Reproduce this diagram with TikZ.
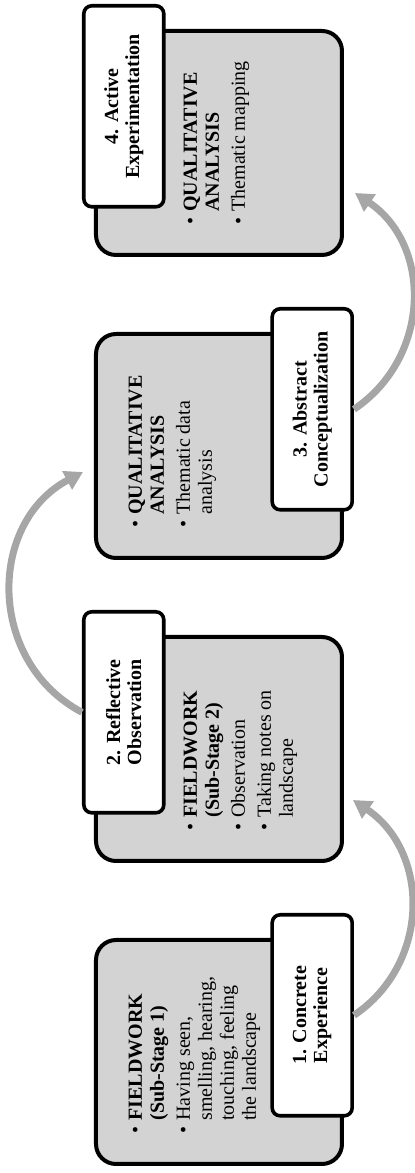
\documentclass[tikz,border=0pt]{standalone}
\usepackage{fontspec}
\setmainfont{Liberation Serif}
\usetikzlibrary{arrows.meta,positioning}
\definecolor{boxgray}{RGB}{211,211,211}
\definecolor{arcgray}{RGB}{166,166,166}
\newcommand{\bul}{\textbullet}

\begin{document}
\begin{tikzpicture}[
  x=0.5pt, y=0.5pt, rotate=90, transform shape,
  font=\fontsize{10}{11}\selectfont, node distance=37.5pt,
  grp/.style={draw, line width=2pt, rounded corners=10pt, fill=boxgray, minimum width=112pt, minimum height=123pt, inner sep=0pt},
  lab/.style={draw, line width=1.8pt, rounded corners=4pt, fill=white, minimum width=100.5pt, minimum height=40pt, align=center, font=\fontsize{10}{10.5}\selectfont\bfseries},
  txt/.style={inner sep=0pt, anchor=north west},
  arc/.style={draw=arcgray, line width=3.5pt, -{Triangle[length=9pt, width=10pt]}}]
  \useasboundingbox (0,0) rectangle (1173,415);
  % stage boxes
  \node[grp, anchor=south west] (g1) at (7,71) {};
  \node[grp, right=of g1] (g2) {};
  \node[grp, right=of g2] (g3) {};
  \node[grp, right=of g3] (g4) {};
  % contents
  \node[txt] (b1) at ([shift={(32,-32)}]g1.north west) {\begin{tabular}{@{}l@{\hspace{3pt}}l@{}}
    \bul & \textbf{FIELDWORK}\\ & \textbf{(Sub-Stage 1)}\\[2pt]
    \bul & Having seen,\\ & smelling, hearing,\\ & touching, feeling\\ & the landscape\end{tabular}};
  \node[txt] (b2) at ([shift={(32,-87)}]g2.north west) {\begin{tabular}{@{}l@{\hspace{3pt}}l@{}}
    \bul & \textbf{FIELDWORK}\\ & \textbf{(Sub-Stage 2)}\\[2pt]
    \bul & Observation\\[2pt] \bul & Taking notes on\\ & landscape\end{tabular}};
  \node[txt] (b3) at ([shift={(32,-32)}]g3.north west) {\begin{tabular}{@{}l@{\hspace{3pt}}l@{}}
    \bul & \textbf{QUALITATIVE}\\ & \textbf{ANALYSIS}\\[2pt]
    \bul & Thematic data\\ & analysis\end{tabular}};
  \node[txt] (b4) at ([shift={(32,-87)}]g4.north west) {\begin{tabular}{@{}l@{\hspace{3pt}}l@{}}
    \bul & \textbf{QUALITATIVE}\\ & \textbf{ANALYSIS}\\[2pt]
    \bul & Thematic mapping\end{tabular}};
  % stage labels
  \node[lab, anchor=south east] (l1) at ([shift={(25,-10)}]g1.south east) {1. Concrete\\ Experience};
  \node[lab, anchor=north east] (l2) at ([shift={(25,12)}]g2.north east) {2. Reflective\\ Observation};
  \node[lab, anchor=south east] (l3) at ([shift={(25,-10)}]g3.south east) {3. Abstract\\ Conceptualization};
  \node[lab, anchor=north east] (l4) at ([shift={(25,12)}]g4.north east) {4. Active\\ Experimentation};
  % cycle arrows
  \coordinate (t2) at ([shift={(63,-9)}]g2.south west);
  \coordinate (t3) at ([shift={(88,11)}]g3.north west);
  \coordinate (t4) at ([shift={(64,-11)}]g4.south west);
  \draw[arc] (l1.south) to[out=-56, in=-124, looseness=1.1] (t2);
  \draw[arc] (l2.north) to[out=62, in=118, looseness=1.15] (t3);
  \draw[arc] (l3.south) to[out=-56, in=-124, looseness=1.1] (t4);
\end{tikzpicture}
\end{document}
